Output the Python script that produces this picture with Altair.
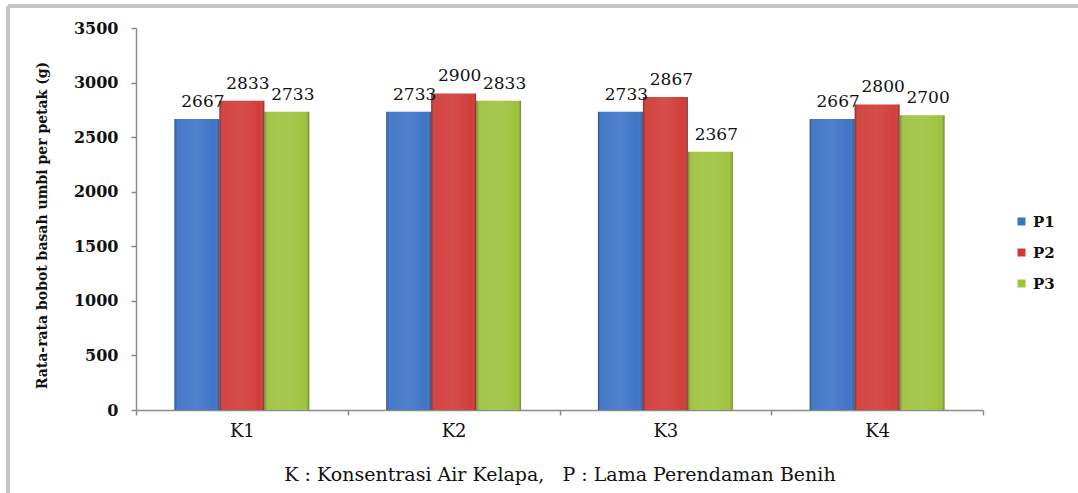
import altair as alt
import pandas as pd

# ---- data ----
categories = ["K1", "K2", "K3", "K4"]
series = ["P1", "P2", "P3"]
P1 = [2667, 2733, 2733, 2667]
P2 = [2833, 2900, 2867, 2800]
P3 = [2733, 2833, 2367, 2700]
colors = ["#3b72c6", "#d03a36", "#9dc23c"]
y_ticks = [0, 500, 1000, 1500, 2000, 2500, 3000, 3500]

y_title = "Rata-rata bobot basah umbi per petak (g)"
x_title = "K : Konsentrasi Air Kelapa,\u00a0\u00a0 P : Lama Perendaman Benih"

rows = []
for s, vals in zip(series, [P1, P2, P3]):
    for k, v in zip(categories, vals):
        rows.append({"K": k, "P": s, "value": v})
df = pd.DataFrame(rows)

SERIF = "DejaVu Serif"

x_enc = alt.X(
    "K:N",
    sort=categories,
    scale=alt.Scale(paddingInner=0, paddingOuter=0),
    axis=alt.Axis(
        title=x_title,
        labelAngle=0,
        labelFont=SERIF,
        labelFontSize=18,
        labelColor="#111111",
        labelPadding=7,
        tickBand="extent",
        tickSize=5,
        tickColor="#8a8a8a",
        tickWidth=1.5,
        domainColor="#8a8a8a",
        domainWidth=1.5,
        titleFont=SERIF,
        titleFontSize=19,
        titleFontWeight="normal",
        titleColor="#111111",
        titleY=70,
        titleBaseline="alphabetic",
        grid=False,
    ),
)
xoff_enc = alt.XOffset("P:N", sort=series, scale=alt.Scale(paddingOuter=0.855, paddingInner=0))
y_enc = alt.Y(
    "value:Q",
    scale=alt.Scale(domain=[0, 3500], nice=False, zero=True),
    axis=alt.Axis(
        title=y_title,
        values=y_ticks,
        format="d",
        labelFont=SERIF,
        labelFontSize=16,
        labelFontWeight="bold",
        labelColor="#111111",
        labelPadding=13,
        tickSize=5,
        tickColor="#8a8a8a",
        tickWidth=1.5,
        domainColor="#8a8a8a",
        domainWidth=1.5,
        titleFont=SERIF,
        titleFontSize=14,
        titleFontWeight="bold",
        titleColor="#111111",
        titleX=-90,
        titleY=197,
        titleAngle=270,
        titleAlign="center",
        titleBaseline="alphabetic",
        grid=False,
    ),
)

base = alt.Chart(df)

bars = base.mark_bar(stroke=None).encode(
    x=x_enc,
    xOffset=xoff_enc,
    y=y_enc,
    color=alt.Color(
        "P:N",
        sort=series,
        scale=alt.Scale(domain=series, range=colors),
        legend=alt.Legend(
            title=None,
            orient="none",
            legendX=878,
            legendY=186,
            symbolType="square",
            symbolSize=64,
            symbolStrokeWidth=0,
            labelFont=SERIF,
            labelFontSize=15,
            labelFontWeight="bold",
            labelColor="#111111",
            labelOffset=4,
            rowPadding=15,
        ),
    ),
)

shade = alt.Gradient(
    gradient="linear",
    x1=0, x2=1, y1=0, y2=0,
    stops=[
        alt.GradientStop(offset=0, color="rgba(0,0,0,0.30)"),
        alt.GradientStop(offset=0.10, color="rgba(255,255,255,0.06)"),
        alt.GradientStop(offset=0.5, color="rgba(255,255,255,0.10)"),
        alt.GradientStop(offset=0.90, color="rgba(255,255,255,0.02)"),
        alt.GradientStop(offset=1, color="rgba(0,0,0,0.30)"),
    ],
)
overlay = base.mark_bar(fill=shade, stroke=None).encode(
    x=alt.X("K:N", sort=categories),
    xOffset=alt.XOffset("P:N", sort=series),
    y=alt.Y("value:Q"),
)

labels = base.mark_text(
    font=SERIF, fontSize=17, color="#111111", baseline="alphabetic", dy=-12, dx=6
).encode(
    x=alt.X("K:N", sort=categories),
    xOffset=alt.XOffset("P:N", sort=series),
    y=alt.Y("value:Q"),
    text=alt.Text("value:Q", format="d"),
)

frame_left = base.mark_rule(color="#c4c4c4", strokeWidth=2.5).encode(
    x=alt.value(-128), y=alt.value(-22), y2=alt.value(470)
)
frame_top = base.mark_rule(color="#c4c4c4", strokeWidth=2.5).encode(
    x=alt.value(-128), x2=alt.value(950), y=alt.value(-22)
)

chart = (
    alt.layer(frame_left, frame_top, bars, overlay, labels)
    .properties(
        width=847,
        height=382,
        autosize=alt.AutoSizeParams(type="none"),
        padding={"left": 136, "top": 28, "right": 95, "bottom": 83},
        background="white",
    )
    .configure_view(stroke=None)
)

chart.save("out.html", embed_options={"renderer": "svg", "actions": False})
